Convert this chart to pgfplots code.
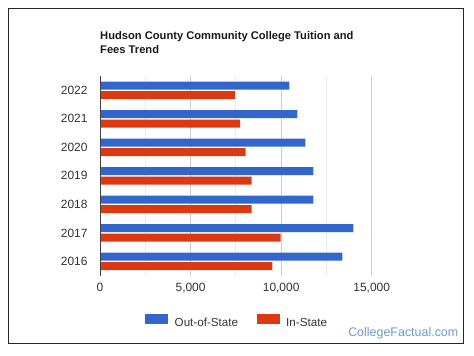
\documentclass[border=0pt]{standalone}
\usepackage{pgfplots}
\pgfplotsset{compat=1.18}
\usepackage{fontspec}
\setmainfont{Liberation Sans}
\definecolor{outblue}{HTML}{3366CC}
\definecolor{inred}{HTML}{DC3912}
\definecolor{txt}{HTML}{333333}
\definecolor{wm}{HTML}{6B9BC7}
\begin{document}
\begin{tikzpicture}[x=1bp,y=1bp]
\path (0,0) rectangle (474,-355);
\draw[color=black!85, line width=1bp] (8,-8) rectangle (463,-343.5);
\node[anchor=north west, align=left, inner sep=0pt, font=\fontsize{11.2}{14}\selectfont\bfseries, text=black!90] at (100,-31) {Hudson County Community College Tuition and\\Fees Trend};
\begin{axis}[
  at={(100bp,-275.7bp)}, anchor=south west,
  scale only axis, width=271.7bp, height=199.7bp,
  xbar, bar width=8bp,
  xmin=0, xmax=15000, ymin=-0.5, ymax=6.5,
  xtick={0,5000,10000,15000},
  minor xtick={2500,7500,12500},
  ytick={0,1,2,3,4,5,6},
  yticklabels={2016,2017,2018,2019,2020,2021,2022},
  major tick length=0pt, minor tick length=0pt,
  xmajorgrids, xminorgrids,
  major grid style={color=black!20, line width=0.8bp},
  minor grid style={color=black!8, line width=0.8bp},
  axis line style={draw=none},
  scaled x ticks=false,
  /pgf/number format/.cd, 1000 sep={,}, assume math mode=true,
  /pgfplots/.cd,
  tick label style={font=\fontsize{12}{14}\selectfont, text=txt},
  yticklabel style={xshift=-9bp},
  xticklabel style={yshift=-4bp},
  legend columns=2,
  legend style={at={(0.1656,-0.2253)}, anchor=west, draw=none, fill=none, inner sep=0pt,
    font=\fontsize{11.7}{14}\selectfont, text=txt,
    nodes={inner sep=0pt},
    /tikz/every odd column/.append style={column sep=6.5bp},
    /tikz/every even column/.append style={column sep=18.5bp}},
  legend image code/.code={\fill[#1] (0bp,-0.8bp) rectangle (23bp,9.2bp);},
]
\addplot[fill=outblue, draw=none, bar shift=4.75bp] coordinates {
(13378,0) (13985,1) (11777,2) (11777,3) (11335,4) (10892,5) (10451,6)};
\addlegendentry{Out-of-State}
\addplot[fill=inred, draw=none, bar shift=-4.75bp] coordinates {
(9512,0) (9973,1) (8372,2) (8372,3) (8041,4) (7729,5) (7453,6)};
\addlegendentry{In-State}
\draw[color=black!75, line width=1bp] (rel axis cs:0,0) -- (rel axis cs:0,1);
\end{axis}
\node[anchor=base east, inner sep=0pt, font=\fontsize{12.5}{14}\selectfont, text=wm] at (458.5,-336.5) {CollegeFactual.com};
\end{tikzpicture}
\end{document}
